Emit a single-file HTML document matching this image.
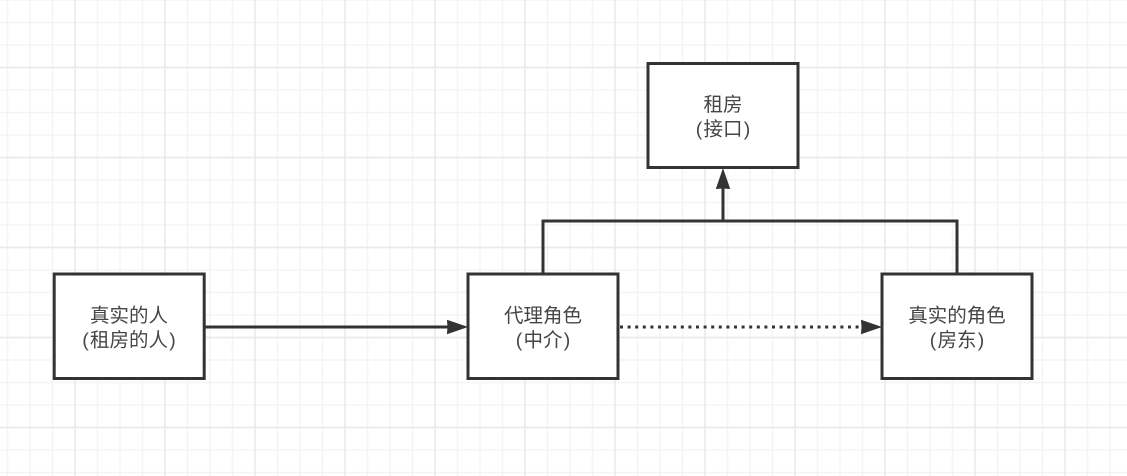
<!DOCTYPE html>
<html>
<head>
<meta charset="utf-8">
<style>
html,body{margin:0;padding:0;background:#fff;width:1127px;height:476px;overflow:hidden}
svg{display:block}
text{font-family:"Liberation Sans","WenQuanYi Zen Hei","Noto Sans CJK SC",sans-serif;font-size:19.5px;fill:#454545;text-anchor:middle}
</style>
</head>
<body>
<svg width="1127" height="476" viewBox="0 0 1127 476" xmlns="http://www.w3.org/2000/svg">
<defs>
<pattern id="minor" patternUnits="userSpaceOnUse" x="6.75" y="-0.75" width="22.5" height="22.5">
<path d="M0.75 0V22.5M0 0.75H22.5" stroke="#f4f4f4" stroke-width="1.5" fill="none"/>
</pattern>
<pattern id="major" patternUnits="userSpaceOnUse" x="74.25" y="66.75" width="90" height="90">
<path d="M0.75 0V90M0 0.75H90" stroke="#e9e9e9" stroke-width="1.5" fill="none"/>
</pattern>
</defs>
<rect width="1127" height="476" fill="#fff"/>
<rect width="1127" height="476" fill="url(#minor)"/>
<rect width="1127" height="476" fill="url(#major)"/>

<g fill="none" stroke="#333" stroke-width="3" stroke-linejoin="miter">
<path d="M543 274V221H957V274"/>
<path d="M723 221V188"/>
<path d="M204 327H449"/>
<path d="M620 327H860" stroke-dasharray="3 4.6"/>
</g>
<g fill="#333" stroke="#333" stroke-width="1">
<path d="M723 169.500L729.500 188.500L723 188L716.500 188.500Z"/>
<path d="M466.500 327L447.500 320.500L448 327L447.500 333.500Z"/>
<path d="M880.500 327L861.500 320.500L862 327L861.500 333.500Z"/>
</g>

<g fill="#fff" stroke="#333" stroke-width="3">
<rect x="648" y="63.5" width="150" height="104"/>
<rect x="54.2" y="274" width="150" height="104.5"/>
<rect x="468" y="274" width="150" height="104.5"/>
<rect x="882" y="274" width="150" height="104.5"/>
</g>

<text x="723" y="111">租房</text>
<text x="723" y="135.500">(<tspan dx="1.2">接口</tspan><tspan dx="1.2">)</tspan></text>
<text x="129" y="322">真实的人</text>
<text x="129" y="346.500">(<tspan dx="1.2">租房的人</tspan><tspan dx="1.2">)</tspan></text>
<text x="543" y="322">代理角色</text>
<text x="543" y="346.500">(<tspan dx="1.2">中介</tspan><tspan dx="1.2">)</tspan></text>
<text x="957" y="322">真实的角色</text>
<text x="957" y="346.500">(<tspan dx="1.2">房东</tspan><tspan dx="1.2">)</tspan></text>
</svg>
</body>
</html>
